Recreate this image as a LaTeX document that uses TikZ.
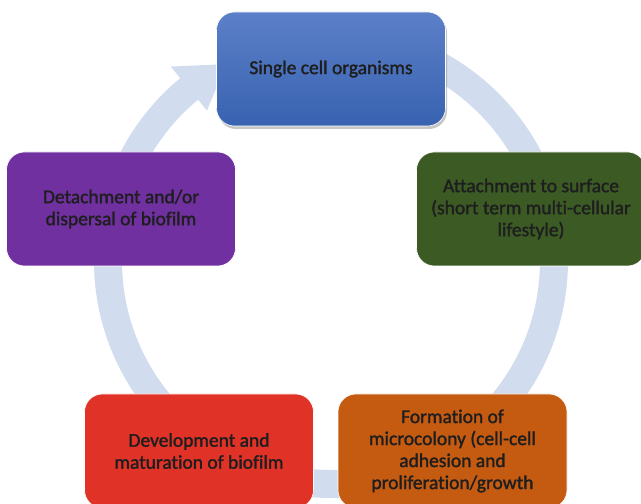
\documentclass[tikz,border=0pt]{standalone}
\usepackage{fontspec}
\setmainfont{Carlito}[Ligatures=NoCommon]
\newfontfamily\stagefont{Carlito}[FakeBold=1.5, Ligatures=NoCommon]
\usetikzlibrary{shadows}
\definecolor{ringc}{HTML}{D1DDEE}
\definecolor{bluetop}{HTML}{5C80C8}
\definecolor{bluebot}{HTML}{3862B0}
\definecolor{greenc}{HTML}{3B5A24}
\definecolor{orangec}{HTML}{C55A11}
\definecolor{redc}{HTML}{E03227}
\definecolor{purplec}{HTML}{7030A0}
\definecolor{txtc}{HTML}{1E1E1E}
\tikzset{
  stage/.style={rounded corners=18pt, minimum width=229pt, minimum height=114pt,
    align=center, text=txtc, inner sep=4pt, draw=white, line width=0.6pt,
    font=\stagefont\fontsize{19.5}{22}\selectfont},
  ring/.style={draw=ringc, line width=28pt},
}
\begin{document}
\begin{tikzpicture}[x=1pt,y=1pt]
\useasboundingbox (0,0) rectangle (641,504);
\coordinate (c) at (331,243);
% ring arrow
\draw[ring] ([shift={(85:223pt)}]c) arc[start angle=85, end angle=-231, radius=223pt];
\coordinate (h1) at ([shift={(129.5:195pt)}]c);
\coordinate (h2) at ([shift={(129.5:252pt)}]c);
\coordinate (h3) at ([shift={(118:223pt)}]c);
\fill[ringc] (h1) -- (h2) -- (h3) -- cycle;
% stages
\node[stage, top color=bluetop, bottom color=bluebot,
  drop shadow={shadow xshift=1.5pt, shadow yshift=-3pt, opacity=0.45}] (s1) at (331,435)
  {Single cell organisms};
\node[stage, fill=greenc] (s2) at (531,295)
  {Attachment to surface\\(short term multi-cellular\\lifestyle)};
\node[stage, fill=orangec] (s3) at (452.5,53)
  {Formation of\\microcolony (cell-cell\\adhesion and\\proliferation/growth};
\node[stage, fill=redc] (s4) at (199,53)
  {Development and\\maturation of biofilm};
\node[stage, fill=purplec] (s5) at (121,295)
  {Detachment and/or\\dispersal of biofilm};
\end{tikzpicture}
\end{document}
